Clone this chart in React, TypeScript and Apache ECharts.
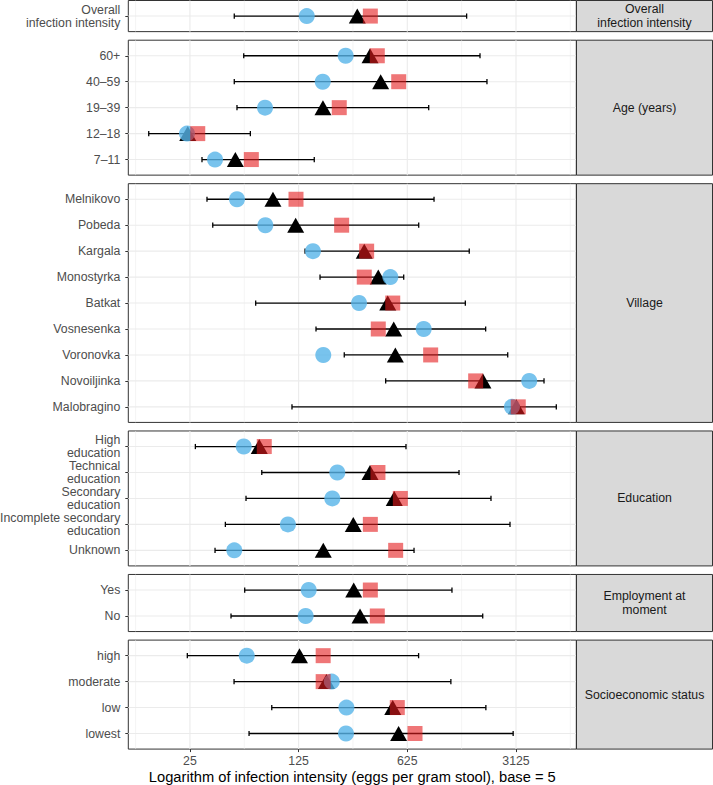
import React, { useEffect, useRef } from 'react';
import * as echarts from 'echarts';

// ---- data (values are log base 5 of eggs per gram stool) ----
const facetNames = [
  'Overall\ninfection intensity',
  'Age (years)',
  'Village',
  'Education',
  'Employment at\nmoment',
  'Socioeconomic status',
];
const facetSizes = [1, 5, 9, 5, 2, 4];
const rowLabels = [
  'Overall\ninfection intensity',
  '60+', '40–59', '19–39', '12–18', '7–11',
  'Melnikovo', 'Pobeda', 'Kargala', 'Monostyrka', 'Batkat', 'Vosnesenka', 'Voronovka', 'Novoiljinka', 'Malobragino',
  'High\neducation', 'Technical\neducation', 'Secondary\neducation', 'Incomplete secondary\neducation', 'Unknown',
  'Yes', 'No',
  'high', 'moderate', 'low', 'lowest',
];
const lowerCI = [
  2.408,
  2.495, 2.408, 2.433, 1.621, 2.111,
  2.157, 2.210, 3.059, 3.197, 2.605, 3.160, 3.420, 3.801, 2.939,
  2.050, 2.661, 2.516, 2.326, 2.231,
  2.504, 2.378,
  1.976, 2.406, 2.753, 2.544,
];
const upperCI = [
  4.546,
  4.669, 4.733, 4.197, 2.556, 3.144,
  4.246, 4.105, 4.570, 3.967, 4.534, 4.721, 4.924, 5.258, 5.371,
  3.988, 4.476, 4.770, 4.945, 4.062,
  4.411, 4.694,
  4.104, 4.401, 4.723, 4.974,
];
const circleValues = [
  3.075,
  3.433, 3.222, 2.691, 1.973, 2.231,
  2.433, 2.694, 3.132, 3.844, 3.556, 4.151, 3.227, 5.122, 4.963,
  2.495, 3.356, 3.310, 2.902, 2.408,
  3.093, 3.065,
  2.523, 3.305, 3.440, 3.436,
];
const triangleValues = [
  3.540,
  3.657, 3.755, 3.224, 1.980, 2.418,
  2.764, 2.973, 3.604, 3.733, 3.820, 3.875, 3.890, 4.696, 5.003,
  2.638, 3.657, 3.880, 3.503, 3.227,
  3.507, 3.565,
  3.008, 3.256, 3.866, 3.920,
];
const squareValues = [
  3.660,
  3.724, 3.921, 3.374, 2.072, 2.565,
  2.976, 3.396, 3.626, 3.604, 3.866, 3.733, 4.215, 4.629, 5.021,
  2.684, 3.730, 3.936, 3.660, 3.893,
  3.660, 3.724,
  3.226, 3.226, 3.908, 4.071,
];
const xTickValues = [2, 3, 4, 5]; // 25, 125, 625, 3125
const xMinorGrid = [1.5, 2.5, 3.5, 4.5, 5.5];
const xTitle = 'Logarithm of infection intensity (eggs per gram stool), base = 5';

// ---- layout ----
const FONT = 'Liberation Sans, Arial, Helvetica, sans-serif';
const X_MIN = 1.433;
const X_MAX = 5.555;
const UNIT = 25.95;
const GAP = 8.55;
const TOP0 = 0.5;
const LEFT = 128.3;
const WIDTH = 448;
const STRIP_X = 576.5;
const STRIP_W = 136;

function buildOption() {
  const grids: any[] = [];
  const xAxes: any[] = [];
  const yAxes: any[] = [];
  const series: any[] = [];
  const graphics: any[] = [];

  let top = TOP0;
  let start = 0;
  facetSizes.forEach((n, k) => {
    const h = (n + 0.2) * UNIT;
    const isLast = k === facetSizes.length - 1;
    const idx = Array.from({ length: n }, (_, i) => i);
    const labels = rowLabels.slice(start, start + n);

    grids.push({
      left: LEFT,
      top,
      width: WIDTH,
      height: h,
      show: true,
      backgroundColor: '#ffffff',
      borderColor: '#333333',
      borderWidth: 1,
      containLabel: false,
      outerBoundsMode: 'none',
    });

    xAxes.push({
      gridIndex: k,
      type: 'value',
      position: 'bottom',
      min: X_MIN,
      max: X_MAX,
      splitLine: { show: false },
      axisLine: { show: false, onZero: false },
      axisTick: {
        show: isLast,
        length: 3,
        customValues: xTickValues,
        lineStyle: { color: '#333333', width: 1 },
      },
      axisLabel: {
        show: isLast,
        customValues: xTickValues,
        formatter: (v: number) => String(Math.round(Math.pow(5, v))),
        color: '#4d4d4d',
        fontSize: 12.3,
        fontFamily: FONT,
        margin: 6,
      },
      name: isLast ? xTitle : '',
      nameLocation: 'middle',
      nameGap: 20,
      nameTextStyle: { color: '#000000', fontSize: 14.7, fontFamily: FONT },
    });

    yAxes.push({
      gridIndex: k,
      type: 'value',
      position: 'left',
      inverse: true,
      min: -0.6,
      max: n - 0.4,
      splitLine: { show: false },
      axisLine: { show: false, onZero: false },
      axisTick: {
        show: true,
        length: 3,
        customValues: idx,
        lineStyle: { color: '#333333', width: 1 },
      },
      axisLabel: {
        customValues: idx,
        formatter: (v: number) => labels[Math.round(v)] ?? '',
        color: '#4d4d4d',
        fontSize: 12.3,
        lineHeight: 13,
        fontFamily: FONT,
        margin: 8,
        align: 'right',
      },
    });

    // panel gridlines (one item draws all of them)
    series.push({
      type: 'custom',
      xAxisIndex: k,
      yAxisIndex: k,
      silent: true,
      z: 1,
      data: [[0]],
      encode: { y: 0 },
      renderItem: (params: any, api: any) => {
        const cs = params.coordSys;
        const children: any[] = [];
        idx.forEach((i) => {
          const yy = api.coord([X_MIN, i])[1];
          children.push({
            type: 'line',
            shape: { x1: cs.x, y1: yy, x2: cs.x + cs.width, y2: yy },
            style: { stroke: '#ebebeb', lineWidth: 1.1 },
          });
        });
        xMinorGrid.forEach((v) => {
          const xx = api.coord([v, 0])[0];
          children.push({
            type: 'line',
            shape: { x1: xx, y1: cs.y, x2: xx, y2: cs.y + cs.height },
            style: { stroke: '#ebebeb', lineWidth: 0.55 },
          });
        });
        xTickValues.forEach((v) => {
          const xx = api.coord([v, 0])[0];
          children.push({
            type: 'line',
            shape: { x1: xx, y1: cs.y, x2: xx, y2: cs.y + cs.height },
            style: { stroke: '#ebebeb', lineWidth: 1.1 },
          });
        });
        return { type: 'group', children };
      },
    });

    // error bars
    series.push({
      type: 'custom',
      xAxisIndex: k,
      yAxisIndex: k,
      silent: true,
      z: 2,
      data: idx.map((i) => [lowerCI[start + i], upperCI[start + i], i]),
      encode: { x: [0, 1], y: 2 },
      renderItem: (params: any, api: any) => {
        const lo = api.coord([api.value(0), api.value(2)]);
        const hi = api.coord([api.value(1), api.value(2)]);
        const c = 2.6;
        const st = { stroke: '#000000', lineWidth: 1.3 };
        return {
          type: 'group',
          children: [
            { type: 'line', shape: { x1: lo[0], y1: lo[1], x2: hi[0], y2: hi[1] }, style: st },
            { type: 'line', shape: { x1: lo[0], y1: lo[1] - c, x2: lo[0], y2: lo[1] + c }, style: st },
            { type: 'line', shape: { x1: hi[0], y1: hi[1] - c, x2: hi[0], y2: hi[1] + c }, style: st },
          ],
        };
      },
    });

    series.push({
      type: 'scatter',
      xAxisIndex: k,
      yAxisIndex: k,
      z: 3,
      symbol: 'triangle',
      symbolSize: [17, 15],
      itemStyle: { color: '#000000', opacity: 1 },
      data: idx.map((i) => [triangleValues[start + i], i]),
    });
    series.push({
      type: 'scatter',
      xAxisIndex: k,
      yAxisIndex: k,
      z: 4,
      symbol: 'circle',
      symbolSize: 16,
      itemStyle: { color: 'rgba(86,180,233,0.8)', opacity: 1 },
      data: idx.map((i) => [circleValues[start + i], i]),
    });
    series.push({
      type: 'scatter',
      xAxisIndex: k,
      yAxisIndex: k,
      z: 5,
      symbol: 'rect',
      symbolSize: 15,
      itemStyle: { color: 'rgba(228,26,28,0.6)', opacity: 1 },
      data: idx.map((i) => [squareValues[start + i], i]),
    });

    graphics.push({
      type: 'rect',
      shape: { x: STRIP_X, y: top, width: STRIP_W, height: h },
      style: { fill: '#d9d9d9', stroke: '#333333', lineWidth: 1 },
      z: 10,
    });
    graphics.push({
      type: 'text',
      x: STRIP_X + STRIP_W / 2,
      y: top + h / 2,
      style: {
        text: facetNames[k],
        fill: '#1a1a1a',
        fontSize: 12.3,
        fontFamily: FONT,
        lineHeight: 13.3,
        align: 'center',
        verticalAlign: 'middle',
      },
      z: 11,
    });

    top += h + GAP;
    start += n;
  });

  return {
    animation: false,
    backgroundColor: '#ffffff',
    textStyle: { fontFamily: FONT },
    grid: grids,
    xAxis: xAxes,
    yAxis: yAxes,
    series,
    graphic: graphics,
  };
}

export default function App() {
  const ref = useRef<HTMLDivElement>(null);
  useEffect(() => {
    if (!ref.current) return;
    const chart = echarts.init(ref.current, undefined, { renderer: 'svg' });
    chart.setOption(buildOption() as any);
    return () => chart.dispose();
  }, []);
  return (
    <div
      ref={ref}
      style={{ position: 'absolute', left: 0, top: 0, width: 713, height: 785 }}
    />
  );
}
